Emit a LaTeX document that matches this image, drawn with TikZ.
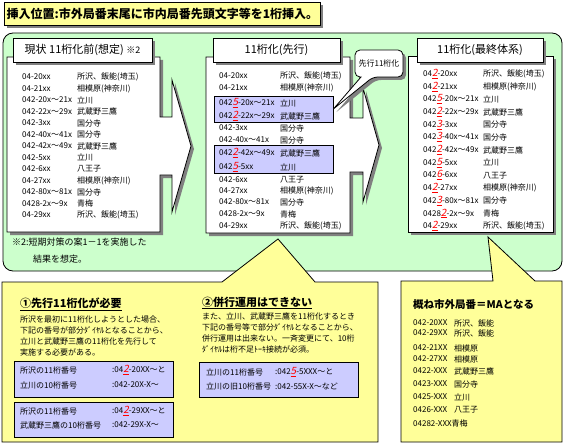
\documentclass[tikz,border=0pt]{standalone}
\usepackage{fontspec}
\setmainfont{Noto Sans CJK JP}
\newfontfamily\slantfont[FakeSlant=0.2]{Noto Sans CJK JP}
\usetikzlibrary{shadows}

% the inserted digit
\newcommand{\rd}[1]{\textcolor{red}{\underline{\slantfont\fontsize{10}{10}\selectfont #1}}}

\begin{document}
\begin{tikzpicture}[
    x=1pt, y=-1pt,
    every node/.style={inner sep=0pt},
]

% ---------------------------------------------------------------- colours
\definecolor{band}{HTML}{CCFFCC}    % the numbering plans
\definecolor{note}{HTML}{FFFF99}    % the remarks
\definecolor{hl}{HTML}{CCCCFF}      % rows moved first
\definecolor{shade}{HTML}{808080}

\tikzset{
    outline/.style={draw=black, line width=0.8pt},
    dropshade/.style={drop shadow={shadow xshift=3pt, shadow yshift=-3pt,
        fill=shade, opacity=1}},
    panel/.style={outline, fill=white, dropshade},
    head/.style={panel, minimum height=24pt, font=\fontsize{11}{12}\selectfont},
    hlbox/.style={outline, fill=hl},
    row/.style={anchor=west, font=\fontsize{8}{9}\selectfont},
    para/.style={anchor=north west, align=left, font=\fontsize{8}{11}\selectfont},
    caption/.style={anchor=west, font=\bfseries\fontsize{11}{12}\selectfont},
}

\useasboundingbox (0,0) rectangle (565,444);

% ---------------------------------------------------------------- title
\node[panel, fill=note, anchor=north west, minimum width=316pt, minimum height=23pt,
    font=\bfseries\fontsize{12}{14}\selectfont] (title) at (4,2)
    {挿入位置:市外局番末尾に市内局番先頭文字等を1桁挿入。};

% ---------------------------------------------------------------- green band
\draw[outline, fill=band, rounded corners=10pt] (3,33) rectangle (562,271);

\node[anchor=north west, align=left, font=\fontsize{9}{17}\selectfont] (fn) at (12,238)
    {※2:短期対策の案1－1を実施した\\\hspace*{21pt}結果を想定。};

% ---------------------------------------------------------------- before
\path[panel] (7,57) -- (160,57) -- (160,117) -- (172,117) -- (172,80)
    -- (191,146) -- (172,212) -- (172,175) -- (160,175) -- (160,232)
    -- (7,232) -- cycle;
\node[head, minimum width=139pt] (head1) at (82.5,50)
    {現状 11桁化前(想定) {\fontsize{9}{9}\selectfont ※2}};

\foreach \n/\t [count=\i] in {04-20xx/所沢、飯能(埼玉), 04-21xx/相模原(神奈川),
    042-20x〜21x/立川, 042-22x〜29x/武蔵野三鷹, 042-3xx/国分寺,
    042-40x〜41x/国分寺, 042-42x〜49x/武蔵野三鷹, 042-5xx/立川,
    042-6xx/八王子, 04-27xx/相模原(神奈川), 042-80x〜81x/国分寺,
    0428-2x〜9x/青梅, 04-29xx/所沢、飯能(埼玉)} {
    \node[row] (a\i) at (22,{77+(\i-1)*11.5}) {\n};
    \node[row] (an\i) at (77,{77+(\i-1)*11.5}) {\t};
}

% ---------------------------------------------------------------- first step
\path[panel] (206,57) -- (350,57) -- (350,118) -- (363,118) -- (363,88)
    -- (379,145) -- (363,202) -- (363,172) -- (350,172) -- (350,233)
    -- (206,233) -- cycle;
\node[head, minimum width=127pt] (head2) at (276.5,50) {11桁化(先行)};

\node[hlbox, minimum width=119pt, minimum height=26pt] (hl1) at (273.5,109) {};
\node[hlbox, minimum width=119pt, minimum height=28pt] (hl2) at (273.5,159) {};

\foreach \y/\n/\t [count=\i] in {76/04-20xx/所沢、飯能(埼玉), 88/04-21xx/相模原(神奈川),
    103/042\rd{5}-20x〜21x/立川, 116/042\rd{2}-22x〜29x/武蔵野三鷹,
    128/042-3xx/国分寺, 140/042-40x〜41x/国分寺,
    153/042\rd{2}-42x〜49x/武蔵野三鷹, 167/042\rd{5}-5xx/立川,
    180/042-6xx/八王子, 191/04-27xx/相模原(神奈川), 202/042-80x〜81x/国分寺,
    214/0428-2x〜9x/青梅, 226/04-29xx/所沢、飯能(埼玉)} {
    \node[row] (b\i) at (219,\y) {\n};
    \node[row] (bn\i) at (280,\y) {\t};
}

% callout pointing at the rows moved first
\path[panel] (361,77) [rounded corners=5pt] -- (355,77) -- (355,50) -- (403,50)
    -- (403,77) -- (373,77) [sharp corners] -- (hl1.east) -- cycle;
\node[font=\fontsize{8}{9}\selectfont] (lead) at (379,63.5) {先行11桁化};

% ---------------------------------------------------------------- final
\path[panel] (408,56) rectangle (553,232);
\node[head, minimum width=126pt] (head3) at (480,50) {11桁化(最終体系)};

\foreach \n/\t [count=\i] in {04\rd{2}-20xx/所沢、飯能(埼玉), 04\rd{2}-21xx/相模原(神奈川),
    042\rd{5}-20x〜21x/立川, 042\rd{2}-22x〜29x/武蔵野三鷹, 042\rd{3}-3xx/国分寺,
    042\rd{3}-40x〜41x/国分寺, 042\rd{2}-42x〜49x/武蔵野三鷹, 042\rd{5}-5xx/立川,
    042\rd{6}-6xx/八王子, 04\rd{2}-27xx/相模原(神奈川), 042\rd{3}-80x〜81x/国分寺,
    0428\rd{2}-2x〜9x/青梅, 04\rd{2}-29xx/所沢、飯能(埼玉)} {
    \node[row] (c\i) at (423,{74+(\i-1)*12.67}) {\n};
    \node[row] (cn\i) at (483,{74+(\i-1)*12.67}) {\t};
}

% ---------------------------------------------------------------- remarks
\draw[outline, fill=note] (2,282) -- (222,282) -- (278,239) -- (315,282)
    -- (378,282) -- (378,442) -- (2,442) -- cycle;
\draw[outline, fill=note] (401,281) -- (493,281) -- (488,237) -- (535,281)
    -- (562,281) -- (562,442) -- (401,442) -- cycle;

% (1) the first step is needed
\node[caption] (need) at (20,304) {\underline{①先行11桁化が必要}};
\node[para] (needtext) at (20,316)
    {所沢を最初に11桁化しようとした場合、\\下記の番号が部分ﾀﾞｲﾔﾙとなることから、\\
     立川と武蔵野三鷹の11桁化を先行して\\実施する必要がある。};

\draw[hlbox] (14,361) rectangle (173,397);
\node[row] (pa1) at (20,370) {所沢の11桁番号};
\node[row] (pa1v) at (112,370) {:04\rd{2}-20XX〜と};
\node[row] (pa2) at (20,385) {立川の10桁番号};
\node[row] (pa2v) at (112,385) {:042-20X-X〜};

\draw[hlbox] (14,402) rectangle (173,437);
\node[row] (pb1) at (20,411) {所沢の11桁番号};
\node[row] (pb1v) at (112,411) {:04\rd{2}-29XX〜と};
\node[row] (pb2) at (20,425) {武蔵野三鷹の10桁番号};
\node[row] (pb2v) at (112,425) {:042-29X-X〜};

% (2) no running side by side
\node[caption] (nopar) at (202,303) {\underline{②併行運用はできない}};
\node[para] (nopartext) at (202,313)
    {また、立川、武蔵野三鷹を11桁化するとき\\下記の番号等で部分ﾀﾞｲﾔﾙとなることから、\\
     併行運用は出来ない。一斉変更にて、10桁\\ﾀﾞｲﾔﾙは桁不足ﾄｰｷ接続が必須。};

\draw[hlbox] (199,362) rectangle (358,397);
\node[row] (pc1) at (206,372) {立川の11桁番号};
\node[row] (pc1v) at (275,372) {:042\rd{5}-5XXX〜と};
\node[row] (pc2) at (206,386) {立川の旧10桁番号};
\node[row] (pc2v) at (275,386) {:042-55X-X〜など};

% (3) area codes follow the MA
\node[anchor=west, font=\bfseries\fontsize{10.5}{12}\selectfont] (ma) at (413,304)
    {概ね市外局番＝MAとなる};
\foreach \y/\n/\t [count=\i] in {323/042-20XX/所沢、飯能, 333/042-29XX/所沢、飯能,
    348/042-21XX/相模原, 359/042-27XX/相模原, 371/0422-XXX/武蔵野三鷹,
    384/0423-XXX/国分寺, 397/0425-XXX/立川, 410/0426-XXX/八王子} {
    \node[row] (d\i) at (413,\y) {\n};
    \node[row] (dn\i) at (454,\y) {\t};
}
\node[row] (d9) at (413,423) {04282-XXX青梅};

\end{tikzpicture}
\end{document}
